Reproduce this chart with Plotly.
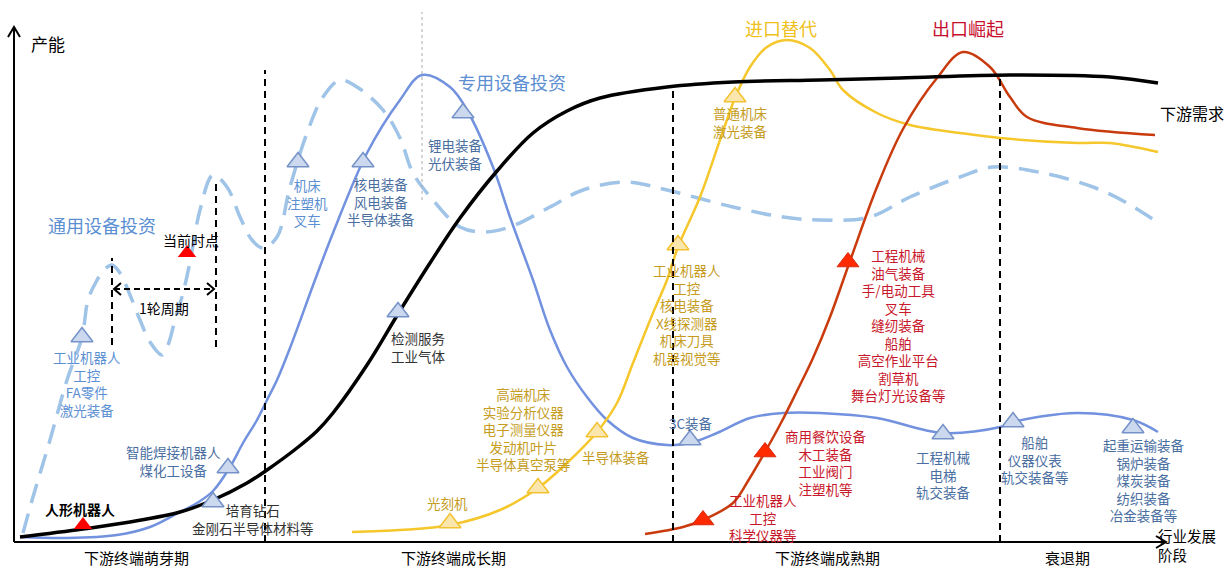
import plotly.graph_objects as go

FONT = "Noto Sans CJK SC"

# ---------------- data (x: industry stage position, y: capacity) ----------------
demand_x = [20, 83, 130, 180, 213, 247, 267, 297, 317, 333, 367, 398, 430, 460, 497, 533, 567, 600, 667, 733, 820, 900, 1010, 1110, 1158]
demand_y = [6, 14, 21, 31, 43, 60, 73, 95, 112, 130, 178, 229, 280, 325, 372, 410, 432, 445, 456, 461, 463, 465, 468, 466, 460]

special_x = [20, 67, 117, 150, 178, 197, 213, 230, 243, 257, 267, 277, 290, 315, 333, 367, 400, 422, 450, 467, 493, 510, 533, 550, 567, 587, 607, 633, 667, 690, 717, 750, 783, 820, 877, 943, 1000, 1013, 1077, 1133, 1158]
special_y = [6, 5, 8, 16, 30, 40, 52, 76, 100, 123, 143, 163, 195, 263, 310, 390, 443, 468, 456, 433, 376, 326, 263, 213, 176, 146, 123, 105, 98, 100, 110, 125, 130, 130, 125, 110, 116, 121, 130, 123, 111]

general_x = [23, 33, 50, 67, 82, 88, 96, 104, 112, 120, 130, 140, 150, 162, 168, 175, 183, 190, 200, 213, 227, 240, 252, 263, 277, 290, 307, 323, 340, 357, 383, 400, 413, 433, 460, 483, 510, 550, 583, 627, 667, 733, 783, 820, 870, 910, 960, 993, 1043, 1093, 1127, 1157]
general_y = [10, 46, 103, 163, 206, 243, 261, 273, 278, 270, 248, 223, 201, 188, 198, 223, 250, 281, 333, 368, 356, 326, 303, 295, 306, 356, 410, 446, 463, 456, 433, 405, 370, 343, 316, 311, 316, 336, 353, 361, 353, 336, 326, 323, 326, 346, 366, 376, 370, 356, 340, 321]

import_x = [352, 400, 450, 500, 538, 567, 597, 617, 633, 653, 667, 678, 700, 720, 735, 750, 767, 787, 810, 830, 843, 877, 910, 960, 1000, 1077, 1110, 1158]
import_y = [11, 13, 18, 33, 55, 80, 111, 140, 180, 230, 263, 296, 346, 403, 445, 476, 496, 503, 495, 473, 453, 430, 418, 410, 405, 400, 400, 391]

export_x = [645, 683, 703, 733, 748, 765, 782, 797, 813, 830, 850, 877, 903, 937, 963, 990, 1010, 1027, 1077, 1155]
export_y = [9, 16, 23, 40, 62, 91, 122, 152, 185, 226, 282, 356, 414, 465, 491, 476, 446, 426, 415, 408]

# triangle markers
blue_tri_x = [82, 298, 228, 363, 463, 213, 398, 690, 943, 1013, 1133]
blue_tri_y = [206, 381, 75, 381, 430, 41, 231, 103, 109, 121, 115]
gold_tri_x = [450, 538, 597, 678, 735]
gold_tri_y = [20, 55, 111, 298, 446]
red_tri_x = [703, 765, 848]
red_tri_y = [23, 91, 281]
now_tri_x = [83, 187]
now_tri_y = [18, 290]

# stages
stage_names = ["下游终端萌芽期", "下游终端成长期", "下游终端成熟期", "衰退期"]
stage_centers = [136, 453, 827, 1067]
stage_bounds = [265, 673, 1000]
stage_bound_tops = [473, 456, 467]

# label texts
blue_light_labels = [["工业机器人", "工控", "FA零件", "激光装备"], ["机床", "注塑机", "叉车"]]
blue_dark_labels = [["核电装备", "风电装备", "半导体装备"], ["锂电装备", "光伏装备"],
                    ["智能焊接机器人", "煤化工设备"], ["3C装备"], ["工程机械", "电梯", "轨交装备"],
                    ["船舶", "仪器仪表", "轨交装备等"],
                    ["起重运输装备", "锅炉装备", "煤炭装备", "纺织装备", "冶金装备等"]]
gray_labels = [["培育钻石", "金刚石半导体材料等"], ["检测服务", "工业气体"]]
gold_labels = [["光刻机"], ["高端机床", "实验分析仪器", "电子测量仪器", "发动机叶片", "半导体真空泵等"],
               ["半导体装备"], ["工业机器人", "工控", "核电装备", "X线探测器", "机床刀具", "机器视觉等"],
               ["普通机床", "激光装备"]]
red_labels = [["工业机器人", "工控", "科学仪器等"], ["商用餐饮设备", "木工装备", "工业阀门", "注塑机等"],
              ["工程机械", "油气装备", "手/电动工具", "叉车", "缝纫装备", "船舶", "高空作业平台", "割草机", "舞台灯光设备等"]]

# ---------------- layout positions (label anchors: center x, first-line y) ----------------
blue_light_pos = [(87, 185), (307, 358)]
blue_dark_pos = [(381, 359), (455, 398), (173, 91), (691, 120), (943, 86), (1035, 101), (1144, 97)]
gray_pos = [(253, 33), (418, 205)]
gold_pos = [(447, 40), (523, 148), (616, 86), (687, 272), (740, 430)]
red_pos = [(763, 43), (826, 106), (898, 286)]

C_BLUE_LINE = "#7291de"
C_BLUE_DASH = "#9fc4e7"
C_GOLD_LINE = "#f5c72c"
C_RED_LINE = "#c93a0c"
C_TXT_LBLUE = "#5b8fd2"
C_TXT_DBLUE = "#4a6e9f"
C_TXT_GOLD = "#c59c1e"
C_TXT_RED = "#c8182c"

fig = go.Figure()

fig.add_trace(go.Scatter(x=general_x, y=general_y, mode="lines",
                         line=dict(color=C_BLUE_DASH, width=3.5, dash="20px,11px", shape="spline", smoothing=1.0)))
fig.add_trace(go.Scatter(x=special_x, y=special_y, mode="lines",
                         line=dict(color=C_BLUE_LINE, width=2.5, shape="spline", smoothing=1.0)))
fig.add_trace(go.Scatter(x=import_x, y=import_y, mode="lines",
                         line=dict(color=C_GOLD_LINE, width=2.5, shape="spline", smoothing=1.0)))
fig.add_trace(go.Scatter(x=export_x, y=export_y, mode="lines",
                         line=dict(color=C_RED_LINE, width=2.5, shape="spline", smoothing=1.0)))
fig.add_trace(go.Scatter(x=demand_x, y=demand_y, mode="lines",
                         line=dict(color="#000000", width=3.5, shape="spline", smoothing=1.0)))

fig.add_trace(go.Scatter(x=blue_tri_x, y=blue_tri_y, mode="markers",
                         marker=dict(symbol="triangle-up", size=19, color="#cbd8ee",
                                     line=dict(color="#7592c8", width=1.5))))
fig.add_trace(go.Scatter(x=gold_tri_x, y=gold_tri_y, mode="markers",
                         marker=dict(symbol="triangle-up", size=19, color="#fbe7ae",
                                     line=dict(color="#f2c233", width=1.5))))
fig.add_trace(go.Scatter(x=red_tri_x, y=red_tri_y, mode="markers",
                         marker=dict(symbol="triangle-up", size=19, color="#ff2a00",
                                     line=dict(color="#d82a10", width=1))))
fig.add_trace(go.Scatter(x=now_tri_x, y=now_tri_y, mode="markers",
                         marker=dict(symbol="triangle-up", size=16, color="#ff0000", line=dict(width=0))))


def add_block(lines, x, y0, color, size=13.5, spacing=17, bold=False, xanchor="center"):
    n = len(lines)
    body = "<br>".join(("<b>%s</b>" % t) if bold else t for t in lines)
    fig.add_annotation(x=x, y=y0 - (n - 1) * spacing / 2.0, text=body, showarrow=False,
                       xanchor=xanchor, yanchor="middle", align=xanchor if xanchor != "center" else "center",
                       borderpad=0,
                       font=dict(family=FONT, size=size, color=color))


for lines, (x, y) in zip(blue_light_labels, blue_light_pos):
    add_block(lines, x, y, C_TXT_LBLUE)
for lines, (x, y) in zip(blue_dark_labels, blue_dark_pos):
    add_block(lines, x, y, C_TXT_DBLUE)
for lines, (x, y) in zip(gray_labels, gray_pos):
    add_block(lines, x, y, "#333333", spacing=18)
for lines, (x, y) in zip(gold_labels, gold_pos):
    add_block(lines, x, y, C_TXT_GOLD)
for lines, (x, y) in zip(red_labels, red_pos):
    add_block(lines, x, y, C_TXT_RED)

add_block(["人形机器人"], 80, 34, "#000000", size=14, bold=True)
add_block(["当前时点"], 191, 303, "#000000", size=14)
add_block(["1轮周期"], 164, 235, "#000000", size=14)

add_block(["通用设备投资"], 102, 318, C_TXT_LBLUE, size=18)
add_block(["专用设备投资"], 512, 461, C_TXT_LBLUE, size=18)
add_block(["进口替代"], 781, 515, "#f0c020", size=18)
add_block(["出口崛起"], 968, 515, "#c8102e", size=18)
add_block(["下游需求"], 1192, 430, "#000000", size=16)
add_block(["产能"], 48, 500, "#000000", size=17)
add_block(["行业发展", "阶段"], 1157, 6, "#000000", size=14.5, spacing=16, xanchor="left")

for name, cx in zip(stage_names, stage_centers):
    add_block([name], cx, -14, "#000000", size=15)

# axes (arrows)
fig.add_shape(type="line", x0=14, y0=1, x1=14, y1=514, line=dict(color="#000", width=2))
fig.add_shape(type="path", path="M 8,506 L 14,516 L 20,506", line=dict(color="#000", width=2))
fig.add_shape(type="line", x0=14, y0=1, x1=1164, y1=1, line=dict(color="#000", width=2))
fig.add_shape(type="path", path="M 1156,-5 L 1166,1 L 1156,7", line=dict(color="#000", width=2))

# stage boundaries
for bx, top in zip(stage_bounds, stage_bound_tops):
    fig.add_shape(type="line", x0=bx, y0=1, x1=bx, y1=top,
                  line=dict(color="#000", width=2, dash="7px,5px"))
fig.add_shape(type="line", x0=422, y0=343, x1=422, y1=531,
              line=dict(color="#aaaaaa", width=1, dash="3px,3px"))

# one-cycle marker
fig.add_shape(type="line", x0=112, y0=198, x1=112, y1=285, line=dict(color="#000", width=2, dash="7px,5px"))
fig.add_shape(type="line", x0=216, y0=196, x1=216, y1=360, line=dict(color="#000", width=2, dash="7px,5px"))
fig.add_shape(type="line", x0=114, y0=254, x1=214, y1=254, line=dict(color="#000", width=2, dash="6px,4px"))
fig.add_shape(type="path", path="M 121,260 L 114,254 L 121,248", line=dict(color="#000", width=2))
fig.add_shape(type="path", path="M 207,260 L 214,254 L 207,248", line=dict(color="#000", width=2))

fig.update_layout(
    width=1226, height=568,
    margin=dict(l=0, r=0, t=0, b=0),
    paper_bgcolor="white", plot_bgcolor="white",
    showlegend=False,
    xaxis=dict(range=[0, 1226], visible=False, fixedrange=True),
    yaxis=dict(range=[-25, 543], visible=False, fixedrange=True),
    font=dict(family=FONT),
)

fig.write_html("out.html", config={"displayModeBar": False},
               post_script="document.body.style.margin='0';document.body.style.overflow='hidden';")
